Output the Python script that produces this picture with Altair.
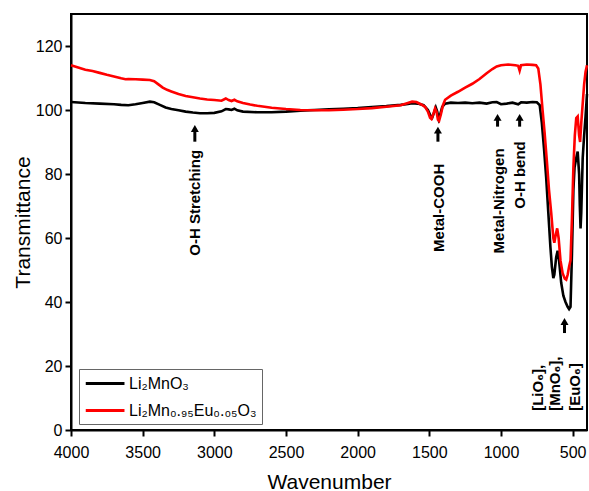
import altair as alt
import pandas as pd

# ---------------- data ----------------
S1 = "Li₂MnO₃"
S2 = "Li₂Mn₀.₉₅Eu₀.₀₅O₃"

wn_black = [4000, 3900, 3800, 3700, 3650, 3600, 3550, 3500, 3450, 3420, 3380, 3340, 3300, 3250,
            3200, 3150, 3100, 3050, 3000, 2950, 2920, 2900, 2880, 2860, 2840, 2800, 2700, 2600,
            2500, 2400, 2300, 2200, 2100, 2000, 1900, 1800, 1700, 1650, 1620, 1580, 1540, 1510,
            1490, 1480, 1465, 1455, 1445, 1435, 1425, 1410, 1390, 1350, 1300, 1250, 1200, 1150,
            1100, 1060, 1030, 1000, 960, 920, 880, 860, 820, 780, 750, 730, 715, 700, 685, 670,
            655, 645, 635, 628, 615, 605, 595, 580, 565, 550, 535, 525, 515, 505, 495, 487, 475,
            465, 455, 450, 445, 440, 430, 420, 410, 400]
t_black = [102.5, 102.2, 102.0, 101.8, 101.6, 101.5, 101.8, 102.2, 102.6, 102.4, 101.6, 100.8, 100.3, 99.9,
           99.5, 99.2, 99.0, 99.0, 99.1, 99.6, 100.3, 100.2, 100.0, 100.4, 99.9, 99.5, 99.3, 99.3,
           99.5, 99.8, 100.0, 100.2, 100.4, 100.6, 100.9, 101.2, 101.6, 101.9, 102.1, 102.0, 101.5, 100.0,
           98.0, 97.6, 99.5, 100.8, 99.5, 97.2, 98.5, 101.0, 102.0, 102.3, 102.2, 102.3, 102.1, 102.3,
           102.0, 102.4, 102.5, 101.8, 102.0, 102.3, 101.8, 102.4, 102.3, 102.5, 102.4, 101.5, 96, 88, 79, 68,
           57, 51, 47.5, 48.5, 54, 56, 53, 46, 42, 40, 38.5, 37.8, 38.5, 55, 75, 82, 85,
           87, 80, 70, 63, 68, 85, 92, 98, 105]

wn_red = [4000, 3950, 3900, 3850, 3800, 3750, 3700, 3650, 3620, 3600, 3550, 3500, 3450, 3420, 3390,
          3360, 3330, 3300, 3250, 3200, 3150, 3100, 3050, 3000, 2950, 2920, 2900, 2880, 2860, 2840,
          2800, 2750, 2700, 2600, 2500, 2400, 2300, 2200, 2100, 2000, 1900, 1800, 1700, 1650, 1620,
          1590, 1560, 1530, 1510, 1495, 1485, 1470, 1460, 1450, 1440, 1432, 1420, 1405, 1390, 1350,
          1300, 1250, 1200, 1150, 1100, 1060, 1030, 1000, 950, 900, 880, 870, 860, 820, 780, 755,
          740, 725, 710, 696, 680, 665, 650, 635, 628, 618, 608, 598, 585, 570, 555, 545, 535, 525,
          515, 505, 495, 485, 475, 465, 455, 448, 440, 430, 420, 410, 400]
t_red = [114.0, 113.3, 112.6, 112.2, 111.6, 111.0, 110.5, 109.9, 109.6, 109.7, 109.6, 109.5, 109.4, 109.0, 108.0,
         107.0, 106.3, 105.8, 105.0, 104.4, 104.0, 103.6, 103.3, 103.1, 102.9, 103.6, 103.1, 102.8, 103.2, 102.7,
         102.2, 101.7, 101.3, 100.7, 100.3, 100.0, 99.9, 99.9, 100.1, 100.3, 100.6, 101.0, 101.5, 102.2, 102.6,
         102.5, 101.8, 101.0, 99.5, 97.6, 97.2, 99.0, 100.5, 99.5, 97.0, 96.6, 98.5, 101.5, 103.2, 104.5,
         105.7, 107.0, 108.2, 109.7, 111.5, 112.8, 113.6, 114.0, 114.2, 114.0, 113.8, 112.3, 114.0, 114.2, 114.1, 114.0,
         113, 108, 100, 93, 84, 75, 68, 60, 58.5, 61, 63, 60, 53, 49, 47.3, 47, 48.5, 51,
         53, 66, 82, 92, 97.5, 98, 92, 90, 96, 102, 108, 112, 114]

# annotations (rotated labels)
ann_text = ["O-H Stretching", "Metal-COOH", "Metal-Nitrogen", "O-H bend"]
ann_wn = [3136, 1435, 1017, 870]
ann_t = [71.0, 69.4, 71.6, 79.7]

oxide_text = ["[LiO₆],", "[MnO₆],", "[EuO₆]"]
oxide_wn = [745, 620, 487]
oxide_t = [6.0, 6.0, 6.0]

# arrows
arrow_wn = [3136, 1440, 1024, 870, 557]
arrow_tip = [95.3, 94.8, 98.8, 98.8, 35.0]
arrow_tail = [90.1, 90.1, 94.8, 94.8, 30.3]

# ---------------- frames ----------------
df = pd.concat([
    pd.DataFrame({"wn": wn_black, "T": t_black, "series": S1, "o": 0}),
    pd.DataFrame({"wn": wn_red, "T": t_red, "series": S2, "o": 1}),
], ignore_index=True)
ann_df = pd.DataFrame({"wn": ann_wn, "T": ann_t, "label": ann_text})
ox_df = pd.DataFrame({"wn": oxide_wn, "T": oxide_t, "label": oxide_text})
arr_df = pd.DataFrame({"wn": arrow_wn, "tip": arrow_tip, "tail": arrow_tail})

FONT = "Liberation Sans"

xscale = alt.Scale(domain=[400, 4000], reverse=True, nice=False, zero=False)
yscale = alt.Scale(domain=[0, 130], nice=False, zero=False)

x_axis = alt.Axis(
    values=list(range(4000, 499, -250)), format="d",
    labelExpr="datum.value % 500 === 0 ? datum.label : ''",
    tickSize={"condition": {"test": "datum.value % 500 === 0", "value": 6}, "value": 3.5},
    title="Wavenumber", titleFontSize=21, titleFontWeight="normal", titleFont=FONT,
    titleY=58, titleBaseline="alphabetic",
    labelFontSize=16, labelFont=FONT, labelPadding=8, labelColor="black",
    domainColor="black", domainWidth=2, tickColor="black", tickWidth=2, grid=False,
    labelFlush=False, labelOverlap=False,
)
y_axis = alt.Axis(
    values=list(range(0, 131, 10)),
    labelExpr="datum.value % 20 === 0 ? datum.label : ''",
    tickSize={"condition": {"test": "datum.value % 20 === 0", "value": 6}, "value": 3.5},
    title="Transmittance", titleFontSize=21, titleFontWeight="normal", titleFont=FONT,
    titleX=-42, titleBaseline="alphabetic",
    labelFontSize=16, labelFont=FONT, labelPadding=3, labelColor="black",
    domainColor="black", domainWidth=2, tickColor="black", tickWidth=2, grid=False,
    labelFlush=False, labelOverlap=False,
)

lines = alt.Chart(df).mark_line(strokeWidth=2.6).encode(
    x=alt.X("wn:Q", scale=xscale, axis=x_axis),
    y=alt.Y("T:Q", scale=yscale, axis=y_axis),
    color=alt.Color("series:N",
                    scale=alt.Scale(domain=[S1, S2], range=["#000000", "#ff0000"]),
                    legend=alt.Legend(
                        title=None, orient="none", legendX=8, legendY=355,
                        symbolType="M-1,0L4,0", symbolSize=240, symbolStrokeWidth=3,
                        labelFont=FONT, labelFontSize=16, labelColor="black",
                        labelOffset=26, rowPadding=9, padding=5,
                        strokeColor="#666666", fillColor="white",
                    )),
    order=alt.Order("wn:Q"),
    detail="series:N",
)

texts = alt.Chart(ann_df).mark_text(
    angle=270, align="center", baseline="middle", font=FONT, fontWeight="bold",
    fontSize=15, color="black"
).encode(x=alt.X("wn:Q", scale=xscale), y=alt.Y("T:Q", scale=yscale), text="label:N")

oxides = alt.Chart(ox_df).mark_text(
    angle=270, align="left", baseline="middle", font=FONT, fontWeight="bold",
    fontSize=15, color="black"
).encode(x=alt.X("wn:Q", scale=xscale), y=alt.Y("T:Q", scale=yscale), text="label:N")

shafts = alt.Chart(arr_df).transform_calculate(head="datum.tip - 1.1").mark_rule(
    strokeWidth=3, color="black"
).encode(x=alt.X("wn:Q", scale=xscale), y=alt.Y("tail:Q", scale=yscale), y2="head:Q")

heads = alt.Chart(arr_df).transform_calculate(head="datum.tip - 1.1").mark_point(
    shape="triangle-up", filled=True, size=64, color="black", opacity=1
).encode(x=alt.X("wn:Q", scale=xscale), y=alt.Y("head:Q", scale=yscale))

chart = alt.layer(lines, shafts, heads, texts, oxides).properties(
    width=516, height=416,
    autosize=alt.AutoSizeParams(type="none"),
    padding={"left": 71, "top": 14, "right": 2, "bottom": 61},
    background="white",
).configure_view(stroke="black", strokeWidth=2)

chart.save("out.html", embed_options={"renderer": "svg", "actions": False})
